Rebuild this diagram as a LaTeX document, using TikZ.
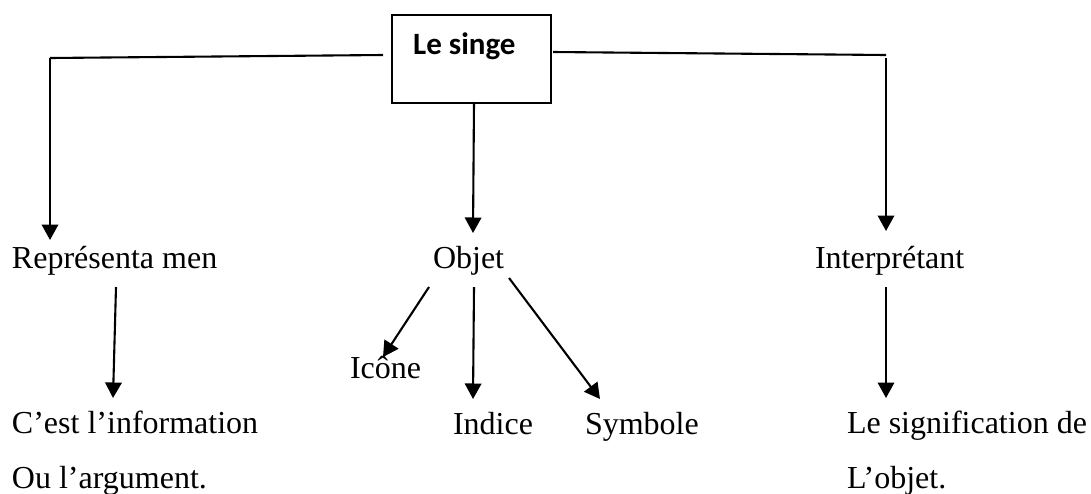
\documentclass[tikz,border=0pt]{standalone}
\usepackage{fontspec}
\setmainfont{Liberation Serif}
\newfontfamily\boxfont{Carlito}
\usetikzlibrary{arrows.meta}
\tikzset{
  lbl/.style={inner sep=0pt,outer sep=0pt,font=\fontsize{32pt}{36pt}\selectfont,anchor=base west},
  ln/.style={line width=2.1pt,black},
  arr/.style={ln,-{Triangle[length=15.5pt,width=16.5pt]}},
}
\begin{document}
\begin{tikzpicture}[x=1pt,y=-1pt]
\useasboundingbox (0,0) rectangle (1091,493);
\node[draw,line width=1.9pt,minimum width=159pt,minimum height=88pt,inner sep=0pt,anchor=north west] (box) at (391,14) {};
\node[inner sep=0pt,anchor=base west,font=\boxfont\bfseries\fontsize{31pt}{35pt}\selectfont] (title) at (413,54) {Le singe};
\coordinate (lc) at (50,58);
\coordinate (ls) at (383,55);
\coordinate (rs) at (553,52);
\coordinate (rc) at (886,55);
\coordinate (rd) at (886,58);
\coordinate (la) at (50,240);
\coordinate (ra) at (886,231);
\coordinate (ms) at (474,102);
\coordinate (ma) at (473,233);
\node[lbl] (rep) at (12,268) {Représenta men};
\node[lbl] (obj) at (433,268) {Objet};
\node[lbl] (int) at (815,268) {Interprétant};
\node[lbl] (ico) at (350,378) {Icône};
\node[lbl] (ind) at (453,434) {Indice};
\node[lbl] (sym) at (585,434) {Symbole};
\node[lbl] (inf) at (12,433) {C’est l’information};
\node[lbl] (arg) at (12,488) {Ou l’argument.};
\node[lbl] (sig) at (847,433) {Le signification de};
\node[lbl] (lob) at (847,488) {L’objet.};
\coordinate (r1) at (116,287);
\coordinate (r2) at (113,398);
\coordinate (o1) at (429,287);
\coordinate (o2) at (383,357);
\coordinate (o3) at (474,287);
\coordinate (o4) at (473,399);
\coordinate (o5) at (509,278);
\coordinate (o6) at (600,399);
\coordinate (i1) at (886,287);
\coordinate (i2) at (886,398);
\draw[ln] (ls) -- (lc);
\draw[arr] (lc) -- (la);
\draw[ln] (rs) -- (rc);
\draw[arr] (rd) -- (ra);
\draw[arr] (ms) -- (ma);
\draw[arr] (r1) -- (r2);
\draw[arr] (o1) -- (o2);
\draw[arr] (o3) -- (o4);
\draw[arr] (o5) -- (o6);
\draw[arr] (i1) -- (i2);
\end{tikzpicture}
\end{document}
